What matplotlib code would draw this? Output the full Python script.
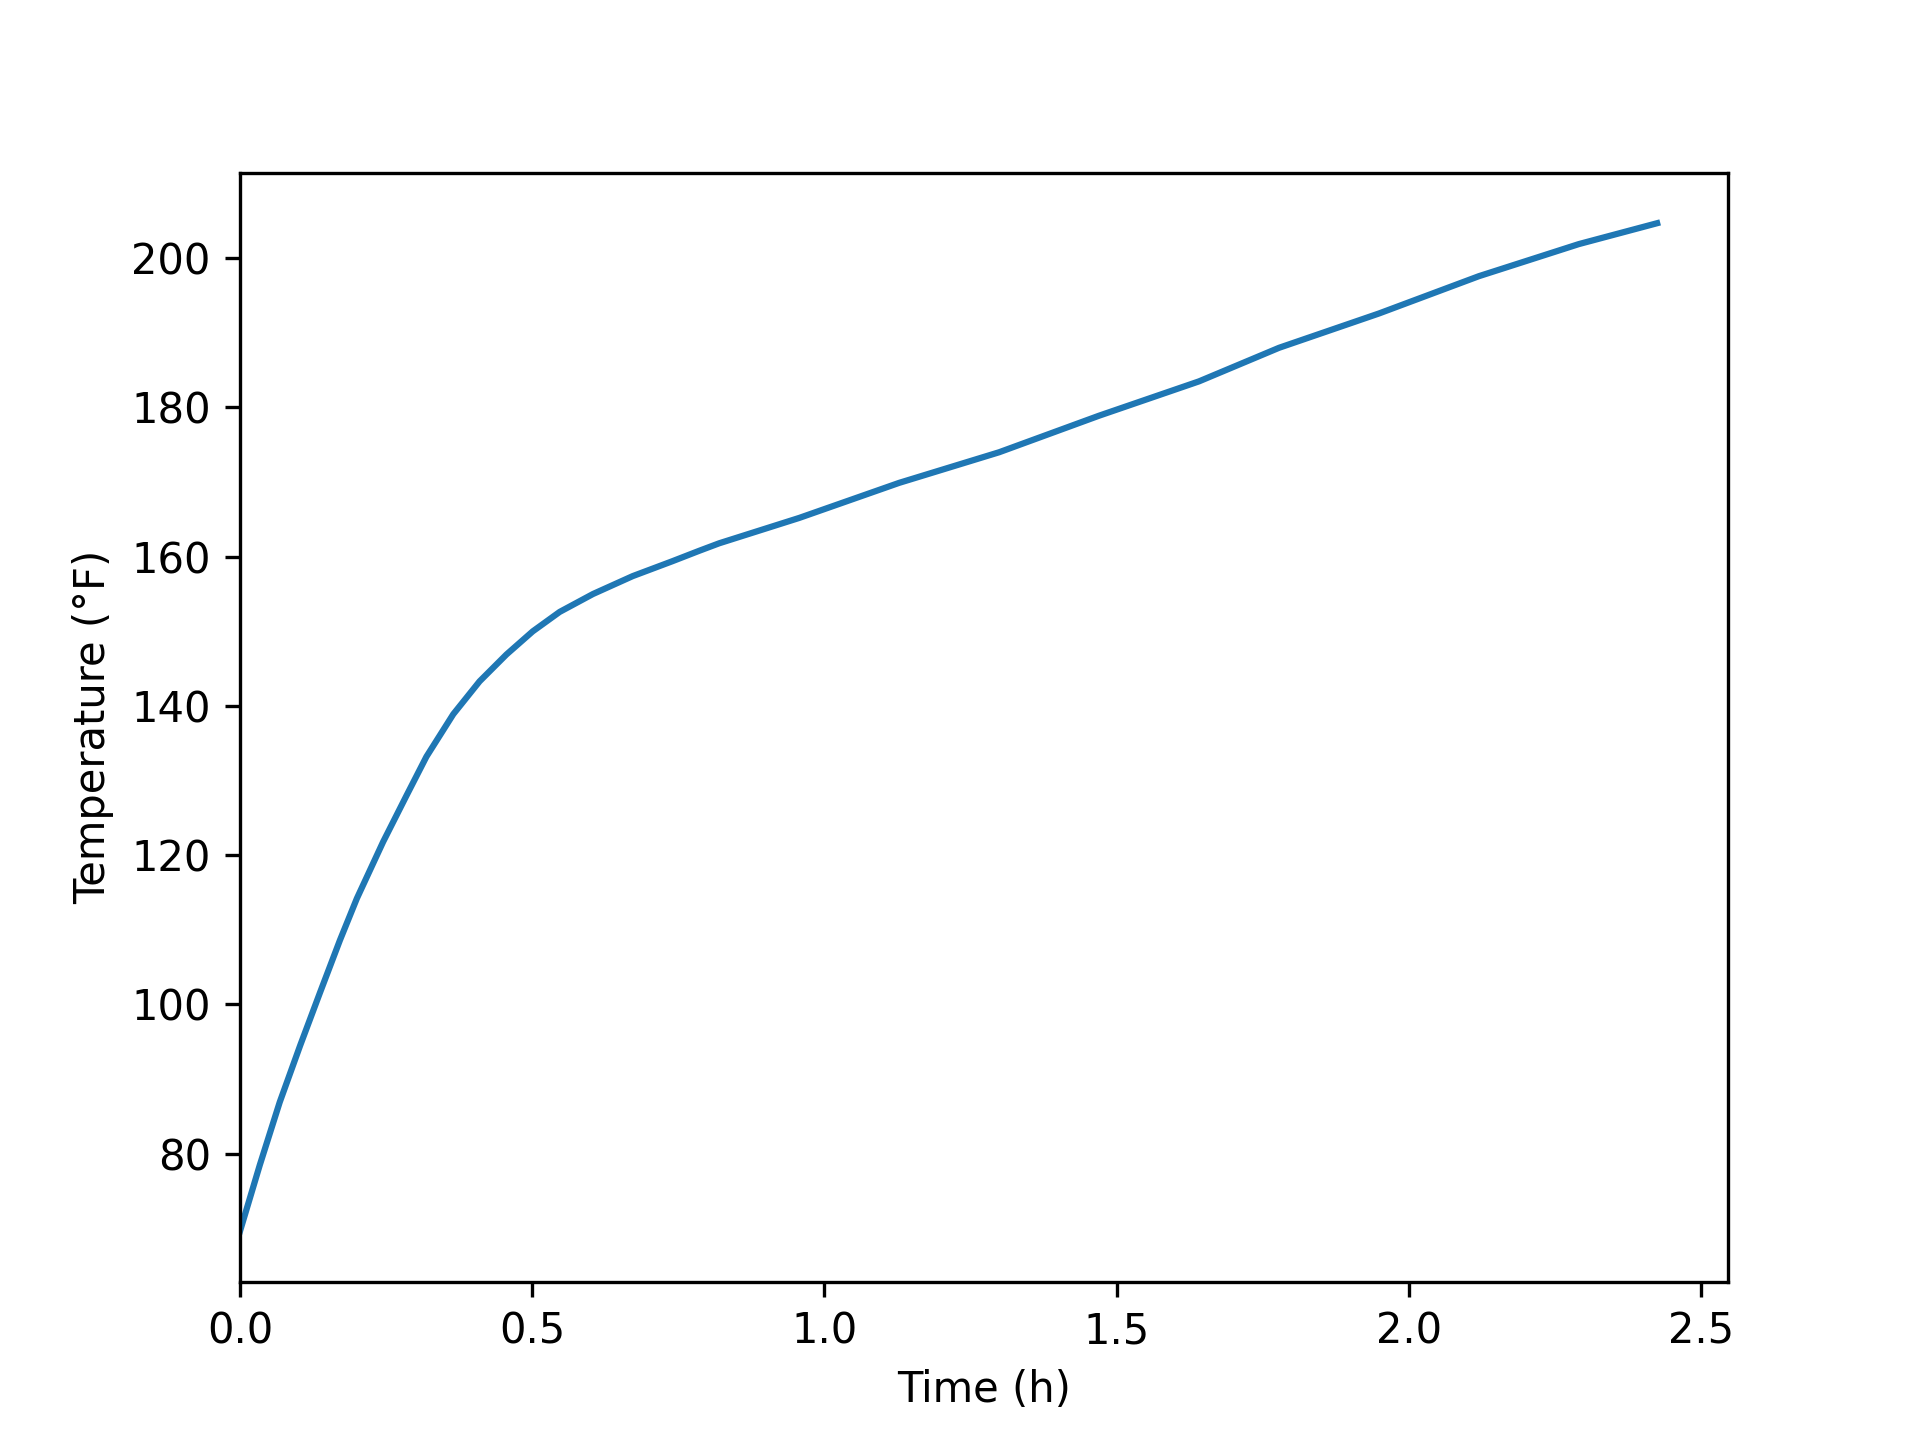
import matplotlib
matplotlib.use('Agg')
import matplotlib.pyplot as plt

# Values
time_h = [0.0, 0.034, 0.068, 0.103, 0.137, 0.171, 0.200, 0.245, 0.285,
          0.319, 0.365, 0.410, 0.456, 0.501, 0.547, 0.604, 0.672, 0.740,
          0.786, 0.820, 0.957, 1.128, 1.299, 1.470, 1.641, 1.778, 1.949,
          2.120, 2.291, 2.425]
temp_f = [69.6, 78.5, 86.9, 94.5, 101.6, 108.6, 114.2, 121.8, 128.0,
          133.2, 138.9, 143.3, 146.9, 150.0, 152.6, 155.0, 157.4, 159.4,
          160.8, 161.8, 165.2, 169.9, 174.0, 178.9, 183.5, 188.0, 192.6,
          197.6, 201.9, 204.7]

fig, ax = plt.subplots(figsize=(6.4, 4.8), dpi=300)
ax.plot(time_h, temp_f)
ax.set_xlim(left=0)
ax.set_xlabel('Time (h)')
ax.set_ylabel('Temperature (°F)')

fig.savefig('out.png', dpi=300)
